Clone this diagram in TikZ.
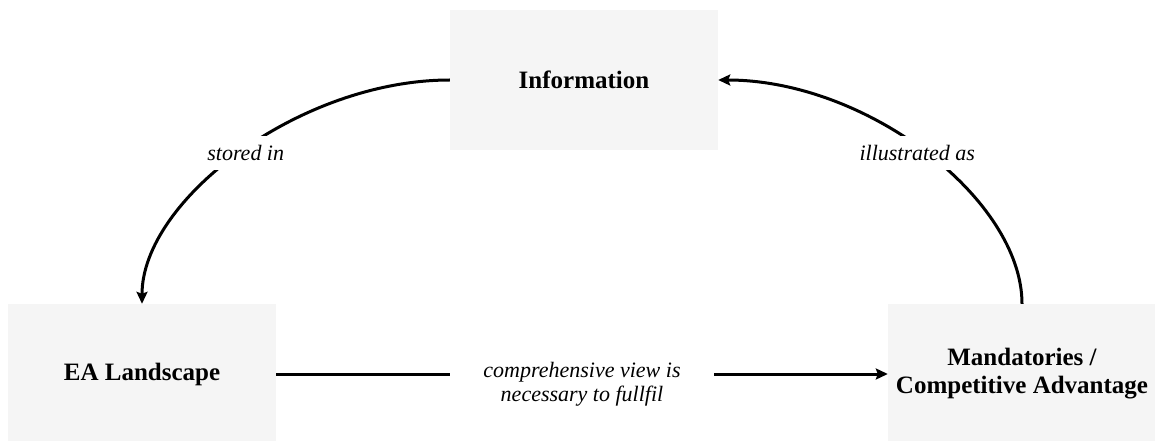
\documentclass[tikz,border=0pt]{standalone}
\usepackage{fontspec}
\setmainfont{Liberation Serif}
\newfontfamily\tnr{Liberation Serif}
\usetikzlibrary{arrows.meta}
\definecolor{boxgray}{HTML}{F5F5F5}
\begin{document}
\begin{tikzpicture}[x=1pt,y=-1pt,
  box/.style={fill=boxgray, draw=none, minimum width=268pt, minimum height=140pt,
    inner sep=0pt, align=center, font=\tnr\fontsize{25}{28}\selectfont\bfseries},
  lbl/.style={fill=white, align=center, inner xsep=8pt, inner ysep=9pt,
    font=\tnr\fontsize{22}{24}\selectfont\itshape},
  conn/.style={line width=3pt, -{Stealth[length=12pt,width=11pt,inset=2pt]}}]
\useasboundingbox (0,0) rectangle (1155,441);
\clip (0,0) rectangle (1155,441);
\node[box] (info) at (584,80) {Information};
\node[box] (ea) at (142,374) {EA Landscape};
\node[box] (mand) at (1022,374) {Mandatories /\\Competitive Advantage};
% stored in
\draw[conn] (info.west) .. controls (300,80) and (142,200) .. (ea.north)
  node[pos=0.5, lbl, xshift=6pt] (l1) {stored in};
% illustrated as
\draw[conn] (mand.north) .. controls (1022,200) and (868,80) .. (info.east)
  node[pos=0.5, lbl, xshift=-9pt] (l2) {illustrated as};
% bottom
\draw[conn] (ea.east) -- (mand.west)
  node[midway, lbl, inner xsep=33pt, inner ysep=4pt, yshift=-10pt] (l3) {comprehensive view is\\necessary to fullfil};
\end{tikzpicture}
\end{document}
